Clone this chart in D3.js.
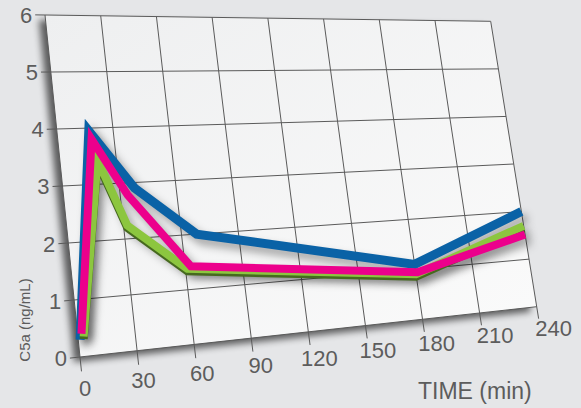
<!DOCTYPE html>
<html>
<head>
  <script src="https://d3js.org/d3.v7.min.js"></script>
  <style>
    body { margin: 0; background: #e5e6e8; }
    .tick-label { font-family: "Liberation Sans", Arial, sans-serif; font-size: 22px; fill: #5c5c5c; }
  </style>
</head>
<body>
<svg width="581" height="408"></svg>
<script>
  // tick values
  const xTicks = [0, 30, 60, 90, 120, 150, 180, 210, 240];
  const yTicks = [0, 1, 2, 3, 4, 5, 6];

  // series (time in min, C5a in ng/mL)
  const blueTime = [1, 17, 38, 68, 180, 240];
  const blueC5a = [0.3, 3.95, 2.9, 2.0, 1.1, 2.0];
  const greenTime = [3, 20, 32, 61, 180, 240];
  const greenC5a = [0.35, 3.43, 2.24, 1.38, 0.9, 1.7];
  const pinkTime = [2, 18, 34, 63, 181, 240];
  const pinkC5a = [0.4, 3.8, 2.78, 1.42, 0.94, 1.52];

  const svg = d3.select("svg");

  // the plot sits on a tilted plane: four corners of it on screen
  const TL = [45, 15], TR = [490.7, 21.3], BL = [80, 357], BR = [536.7, 306.7];

  const x = d3.scaleLinear().domain([0, 240]).range([0, 1]);
  const y = d3.scaleLinear().domain([0, 6]).range([0, 1]);

  // bilinear map from (u,w) in the unit square to the screen
  function project(u, w) {
    const lx = BL[0] + w * (TL[0] - BL[0]), ly = BL[1] + w * (TL[1] - BL[1]);
    const rx = BR[0] + w * (TR[0] - BR[0]), ry = BR[1] + w * (TR[1] - BR[1]);
    return [lx + u * (rx - lx), ly + u * (ry - ly)];
  }
  const pt = (t, v) => project(x(t), y(v));

  const defs = svg.append("defs");
  defs.append("filter").attr("id", "planeShadow")
    .attr("x", "-10%").attr("y", "-10%").attr("width", "120%").attr("height", "120%")
    .append("feGaussianBlur").attr("stdDeviation", 3.5);
  defs.append("filter").attr("id", "lineShadow")
    .attr("x", "-10%").attr("y", "-10%").attr("width", "130%").attr("height", "130%")
    .append("feGaussianBlur").attr("stdDeviation", 4);
  const grad = defs.append("linearGradient").attr("id", "planeFill")
    .attr("x1", "0").attr("y1", "0").attr("x2", "1").attr("y2", "1");
  grad.append("stop").attr("offset", "0").attr("stop-color", "#eeeff0");
  grad.append("stop").attr("offset", "1").attr("stop-color", "#fbfbfb");

  const corners = [TL, TR, BR, BL];

  // shadow under the plane
  svg.append("polygon")
    .attr("points", corners.map(c => c.join(",")).join(" "))
    .attr("transform", "translate(-6,5)")
    .attr("fill", "#000")
    .attr("opacity", 0.6)
    .attr("filter", "url(#planeShadow)");

  svg.append("polygon")
    .attr("points", corners.map(c => c.join(",")).join(" "))
    .attr("fill", "url(#planeFill)");

  // grid lines (horizontal ones run a little past the left edge as ticks)
  const grid = svg.append("g").attr("stroke", "#5a5a5a").attr("stroke-width", 1).attr("fill", "none");
  yTicks.forEach(v => {
    const a = project(-0.022, y(v)), b = project(1, y(v));
    grid.append("line").attr("x1", a[0]).attr("y1", a[1]).attr("x2", b[0]).attr("y2", b[1]);
  });
  xTicks.forEach(t => {
    const a = project(x(t), -0.042), b = project(x(t), 1);
    grid.append("line").attr("x1", a[0]).attr("y1", a[1]).attr("x2", b[0]).attr("y2", b[1]);
  });

  // y labels
  svg.selectAll(".ylab")
    .data(yTicks)
    .join("text")
      .attr("class", "tick-label ylab")
      .attr("text-anchor", "end")
      .attr("x", d => project(-0.022, y(d))[0] - 3)
      .attr("y", d => project(-0.022, y(d))[1])
      .attr("dy", "0.36em")
      .text(d => d);

  // x labels
  svg.selectAll(".xlab")
    .data(xTicks)
    .join("text")
      .attr("class", "tick-label xlab")
      .attr("text-anchor", "middle")
      .attr("x", d => pt(d, 0)[0] + 5 + 12 * x(d))
      .attr("y", d => pt(d, 0)[1] + 31 - 10 * x(d))
      .attr("dy", "0.36em")
      .text(d => d);

  svg.append("text")
    .attr("class", "tick-label")
    .attr("x", 418).attr("y", 399)
    .style("font-size", "23px")
    .text("TIME (min)");

  svg.append("text")
    .attr("class", "tick-label")
    .attr("transform", "translate(30,320) rotate(-90)")
    .attr("text-anchor", "middle")
    .style("font-size", "15px")
    .text("C5a (ng/mL)");

  // lines
  const line = d3.line()
    .x(d => pt(d[0], d[1])[0])
    .y(d => pt(d[0], d[1])[1]);

  const series = [
    {pts: d3.zip(blueTime, blueC5a), color: "#0a62a6", dark: null, width: 9},
    {pts: d3.zip(greenTime, greenC5a), color: "#8cc63f", dark: "#46691f", width: 8},
    {pts: d3.zip(pinkTime, pinkC5a), color: "#ec008c", dark: null, width: 8}
  ];

  // soft shadows first
  series.forEach(s => {
    svg.append("path")
      .attr("d", line(s.pts))
      .attr("fill", "none")
      .attr("stroke", "#000")
      .attr("stroke-opacity", 0.35)
      .attr("stroke-width", s.width)
      .attr("transform", "translate(5,6)")
      .attr("filter", "url(#lineShadow)");
  });

  series.forEach(s => {
    if (s.dark) {
      svg.append("path")
        .attr("d", line(s.pts))
        .attr("fill", "none")
        .attr("stroke", s.dark)
        .attr("stroke-width", s.width)
        .attr("stroke-linejoin", "miter")
        .attr("transform", "translate(0,2.5)");
    }
    svg.append("path")
      .attr("d", line(s.pts))
      .attr("fill", "none")
      .attr("stroke", s.color)
      .attr("stroke-width", s.width)
      .attr("stroke-linejoin", "miter")
      .attr("stroke-miterlimit", 10);
  });
</script>
</body>
</html>
